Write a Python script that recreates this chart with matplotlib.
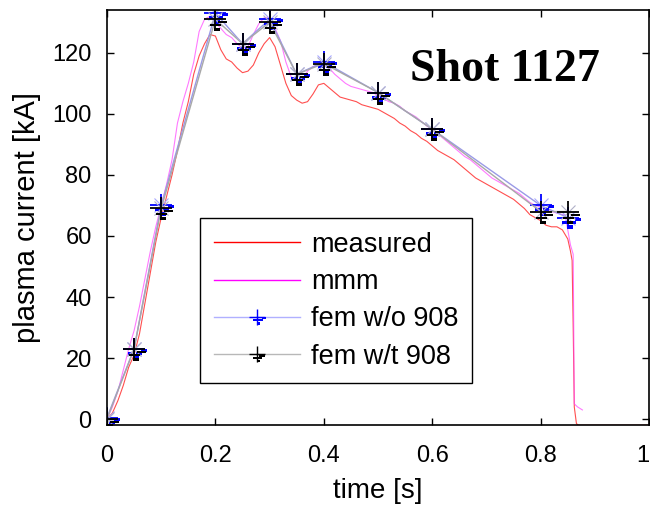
import matplotlib
matplotlib.use("Agg")
import matplotlib.pyplot as plt
from matplotlib.path import Path
from matplotlib.lines import Line2D
from matplotlib.legend_handler import HandlerTuple

plt.rcParams['font.family'] = ['Liberation Sans', 'DejaVu Sans']

# measured plasma current [kA]
t_meas = [0.00, 0.01, 0.02, 0.03, 0.04, 0.05, 0.06, 0.07, 0.08, 0.09,
          0.10, 0.11, 0.12, 0.13, 0.14, 0.15, 0.16, 0.17, 0.18, 0.19,
          0.20, 0.21, 0.22, 0.23, 0.24, 0.25, 0.26, 0.27, 0.28, 0.29,
          0.30, 0.31, 0.32, 0.33, 0.34, 0.35, 0.36, 0.37, 0.38, 0.39,
          0.40, 0.41, 0.42, 0.43, 0.44, 0.45, 0.46, 0.47, 0.48, 0.49,
          0.50, 0.51, 0.52, 0.53, 0.54, 0.55, 0.56, 0.57, 0.58, 0.59,
          0.60, 0.61, 0.62, 0.63, 0.64, 0.65, 0.66, 0.67, 0.68, 0.69,
          0.70, 0.71, 0.72, 0.73, 0.74, 0.75, 0.76, 0.77, 0.78, 0.79,
          0.80, 0.81, 0.82, 0.83, 0.84, 0.85, 0.855, 0.858, 0.860, 0.862,
          0.866, 0.870, 1.00]
i_meas = [0, 2, 6, 11, 17, 21, 28, 38, 48, 58,
          66, 73, 80, 88, 97, 104, 113, 119, 123, 126,
          125.5, 121, 118, 117, 115, 113.5, 114, 116, 120, 123,
          125, 122, 116, 110, 106, 104.5, 103.5, 104, 106.5, 109.5,
          110, 108.5, 107, 105.5, 105, 104.5, 104, 103, 102.5, 102,
          101.5, 100.5, 99.5, 98.5, 97, 96, 94.5, 93.5, 92, 91,
          89.5, 88, 87, 86, 85, 83.5, 82, 80.5, 79, 78,
          77, 76, 75, 74, 73, 72, 70.5, 69, 67, 66,
          65, 63.5, 63, 63, 62, 59, 55, 52, 30, 4,
          -1.5, -2, -2]

# mmm reconstruction [kA]
t_mmm = [0.00, 0.01, 0.02, 0.03, 0.04, 0.05, 0.06, 0.07, 0.08, 0.09,
         0.10, 0.11, 0.12, 0.13, 0.14, 0.15, 0.16, 0.17, 0.18, 0.19,
         0.20, 0.21, 0.22, 0.23, 0.24, 0.25, 0.26, 0.27, 0.28, 0.29,
         0.30, 0.31, 0.32, 0.33, 0.34, 0.35, 0.36, 0.37, 0.38, 0.39,
         0.40, 0.41, 0.42, 0.43, 0.44, 0.45, 0.46, 0.47, 0.48, 0.49,
         0.50, 0.51, 0.52, 0.53, 0.54, 0.55, 0.56, 0.57, 0.58, 0.59,
         0.60, 0.61, 0.62, 0.63, 0.64, 0.65, 0.66, 0.67, 0.68, 0.69,
         0.70, 0.71, 0.72, 0.73, 0.74, 0.75, 0.76, 0.77, 0.78, 0.79,
         0.80, 0.81, 0.82, 0.83, 0.84, 0.845, 0.85, 0.855, 0.86, 0.862,
         0.868, 0.877]
i_mmm = [0, 4, 9, 16, 23, 29, 37, 46, 55, 63,
         70, 77, 85, 97, 104, 110, 117, 127, 131, 132,
         130, 128, 126, 125, 123, 121.5, 122, 126, 129.5, 131.5,
         131.5, 128, 124, 117, 112, 111, 111, 114, 115.5, 116,
         116, 115, 113, 111.5, 110, 109, 108.5, 108, 107.5, 107,
         106, 105, 104, 103.5, 102.5, 101, 100, 99, 97.5, 96,
         95, 93.5, 92, 90.5, 89, 87.5, 86, 85, 83.5, 82,
         80.5, 79, 78, 77, 76, 75, 74, 72.5, 71, 70,
         69.5, 68.5, 68, 67.5, 67, 67, 62, 57, 54, 5,
         4, 3]

# FEM results at the solved time slices [kA]
t_fem = [0.00, 0.05, 0.10, 0.20, 0.25, 0.30, 0.35, 0.40, 0.50, 0.60, 0.80, 0.85]
i_fem_wo908 = [0.5, 23, 70, 133, 123, 131, 113, 117, 107, 95, 70, 66]
i_fem_wt908 = [0, 23, 69, 131, 123, 130, 113, 116.5, 107, 95, 68, 68]

labels = ["measured", "mmm", "fem w/o 908", "fem w/t 908"]
x_ticks = [0, 0.2, 0.4, 0.6, 0.8, 1.0]
x_ticklabels = ["0", "0.2", "0.4", "0.6", "0.8", "1"]
y_ticks = [0, 20, 40, 60, 80, 100, 120]


def rect_marker(rects):
    verts, codes = [], []
    for x0, x1, y0, y1 in rects:
        verts += [(x0, y0), (x1, y0), (x1, y1), (x0, y1), (x0, y0)]
        codes += [Path.MOVETO, Path.LINETO, Path.LINETO, Path.LINETO, Path.CLOSEPOLY]
    # invisible anchor keeps the marker centred on the data point
    verts += [(-1, 1), (-1, 1)]
    codes += [Path.MOVETO, Path.LINETO]
    return Path(verts, codes)


blocks_blue = rect_marker([(0.50, 1.00, -0.02, -0.20),
                           (-0.45, 0.00, -0.26, -0.44),
                           (0.12, 0.62, -0.26, -0.44),
                           (-0.05, 0.35, -0.52, -0.85)])
blocks_black = rect_marker([(0.25, 1.00, -0.15, -0.34),
                            (-0.45, 0.55, -0.40, -0.58),
                            (-0.05, 0.40, -0.75, -1.00)])

fig = plt.figure(figsize=(6.5, 5.05), dpi=100)
ax = fig.add_axes([0.1646, 0.158, 0.834, 0.822])

ax.plot(t_meas, i_meas, color="#ff3030", lw=0.8, alpha=0.85)
ax.plot(t_mmm, i_mmm, color="#ff40ff", lw=0.8, alpha=0.7)

# FEM w/o 908
ax.plot(t_fem, i_fem_wo908, color="#9a9ae6", lw=1.0)
ax.plot(t_fem, i_fem_wo908, ls="none", marker="x", ms=10, mew=0.8, color="#a8a8ff")
ax.plot(t_fem, i_fem_wo908, ls="none", marker="+", ms=16, mew=1.3, color="#0000ff")
ax.plot(t_fem, i_fem_wo908, ls="none", marker=blocks_blue, ms=19, mew=0, color="#0000ff")

# FEM w/t 908
ax.plot(t_fem, i_fem_wt908, color="#a8a8a8", lw=1.0)
ax.plot(t_fem, i_fem_wt908, ls="none", marker="x", ms=10, mew=0.8, color="#b0b0c8")
ax.plot(t_fem, i_fem_wt908, ls="none", marker="+", ms=16, mew=1.3, color="#000000")
ax.plot(t_fem, i_fem_wt908, ls="none", marker=blocks_black, ms=17, mew=0, color="#000000")

ax.set_xlim(0, 1)
ax.set_ylim(-2, 134)
ax.set_xticks(x_ticks)
ax.set_xticklabels(x_ticklabels)
ax.get_xticklabels()[-1].set_horizontalalignment("right")
ax.set_yticks(y_ticks)
ax.tick_params(direction="in", length=5, width=1, top=True, right=True,
               labelsize=17, colors="black")
ax.tick_params(axis="x", pad=14)
ax.tick_params(axis="y", pad=11)
for s in ax.spines.values():
    s.set_linewidth(1.2)
ax.set_xlabel("time [s]", fontsize=20, labelpad=8)
ax.set_ylabel("plasma current [kA]", fontsize=21, labelpad=8)

ax.text(0.734, 0.855, "Shot 1127", transform=ax.transAxes, ha="center", va="center",
        fontsize=33, fontweight="bold", family=["Liberation Serif", "DejaVu Serif"])

h_meas = Line2D([], [], color="#ff0000", lw=1.0)
h_mmm = Line2D([], [], color="#ff00ff", lw=1.0)
h_wo = (Line2D([], [], color="#b0b0ff", lw=1.0, marker="+", ms=12, mew=1.0, mec="#0000ff"),
        Line2D([], [], ls="none", marker=blocks_blue, ms=13, mew=0, color="#0000ff"))
h_wt = (Line2D([], [], color="#b8b8b8", lw=1.0, marker="+", ms=12, mew=1.0, mec="#000000"),
        Line2D([], [], ls="none", marker=blocks_black, ms=12, mew=0, color="#000000"))
leg = ax.legend([h_meas, h_mmm, h_wo, h_wt], labels,
                handler_map={tuple: HandlerTuple(ndivide=1, pad=0)},
                loc="lower left", bbox_to_anchor=(0.172, 0.101), fontsize=19.5,
                handlelength=3.2, handletextpad=0.38, labelspacing=0.42,
                borderpad=0.5, numpoints=1, fancybox=False, framealpha=1,
                edgecolor="black", borderaxespad=0)
leg.get_frame().set_linewidth(1.0)

fig.savefig("out.png", dpi=100)
